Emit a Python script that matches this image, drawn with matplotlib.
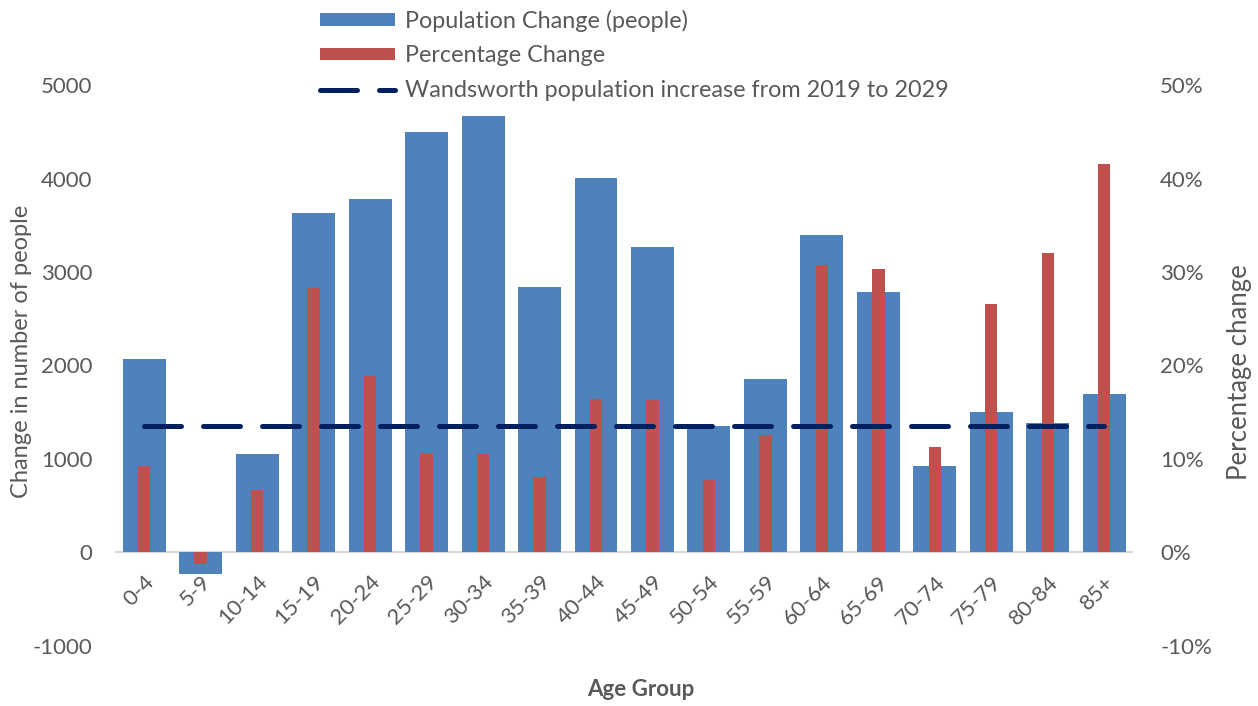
import matplotlib
matplotlib.use("Agg")
import matplotlib.pyplot as plt
import numpy as np
from matplotlib.ticker import FuncFormatter

# population projection by age band, 2019 -> 2029
age_groups = ["0-4", "5-9", "10-14", "15-19", "20-24", "25-29", "30-34", "35-39",
              "40-44", "45-49", "50-54", "55-59", "60-64", "65-69", "70-74",
              "75-79", "80-84", "85+"]
pop_change = [2065, -235, 1050, 3635, 3785, 4500, 4670, 2835, 4010, 3270,
              1350, 1860, 3400, 2790, 920, 1500, 1380, 1690]
pct_change = [9.3, -1.2, 6.7, 28.3, 18.9, 10.6, 10.5, 8.1, 16.4, 16.3,
              7.7, 12.6, 30.7, 30.3, 11.3, 26.6, 32.0, 41.6]
borough_pct = 13.5

BLUE = "#4f81bd"
RED = "#c0504d"
NAVY = "#002060"
GREY = "#595959"

plt.rcParams["font.family"] = ["Lato", "DejaVu Sans"]

fig = plt.figure(figsize=(12.58, 7.06), dpi=100)
ax = fig.add_axes([0.0922, 0.085, 0.808, 0.7946])
ax2 = ax.twinx()

x = np.arange(len(age_groups))
b1 = ax.bar(x, pop_change, width=0.76, color=BLUE, zorder=2,
            label="Population Change (people)")
b2 = ax2.bar(x, pct_change, width=0.22, color=RED, zorder=2,
             label="Percentage Change")
ln, = ax2.plot(x, [borough_pct] * len(x), color=NAVY, lw=3.6,
               dashes=(7.4, 4.4), dash_capstyle="round", zorder=3,
               label="Wandsworth population increase from 2019 to 2029")

ax.set_xlim(-0.5, len(x) - 0.5)
ax.set_ylim(-1000, 5000)
ax2.set_ylim(-10, 50)
ax.set_yticks(range(-1000, 5001, 1000))
ax2.set_yticks(range(-10, 51, 10))
ax.yaxis.set_major_formatter(FuncFormatter(lambda v, _: f"{v:.0f}"))
ax2.yaxis.set_major_formatter(FuncFormatter(lambda v, _: f"{v:.0f}%"))

for a in (ax, ax2):
    for s in a.spines.values():
        s.set_visible(False)
    a.tick_params(length=0, labelsize=16, labelcolor=GREY)
ax.tick_params(axis="y", pad=17)
ax2.tick_params(axis="y", pad=20)

# category axis crosses at zero
ax.spines["bottom"].set_visible(True)
ax.spines["bottom"].set_position(("data", 0))
ax.spines["bottom"].set_color("#d9d9d9")
ax.spines["bottom"].set_linewidth(1.5)
ax.spines["bottom"].set_zorder(1)

ax.set_xticks(x)
ax.set_xticklabels(age_groups, rotation=45, ha="right", rotation_mode="anchor")
ax.tick_params(axis="x", pad=14)

# axis titles placed in figure pixels
W, H = 1258, 706
fig.text(22 / W, 1 - 351 / H, "Change in number of people", fontsize=17,
         color=GREY, rotation=90, ha="center", va="center")
fig.text(1240 / W, 1 - 372 / H, "Percentage change", fontsize=18.5,
         color=GREY, rotation=90, ha="center", va="center")
fig.text(641 / W, 1 - 689 / H, "Age Group", fontsize=16, color=GREY,
         fontweight="bold", ha="center", va="center")

fig.legend([b1, b2, ln], [b1.get_label(), b2.get_label(), ln.get_label()],
           loc="upper left", bbox_to_anchor=(0.2377, 1.016), frameon=False,
           fontsize=16.8, labelcolor=GREY, handlelength=3.2, handleheight=0.45,
           handletextpad=0.45, labelspacing=0.58)

fig.savefig("out.png", dpi=100)
